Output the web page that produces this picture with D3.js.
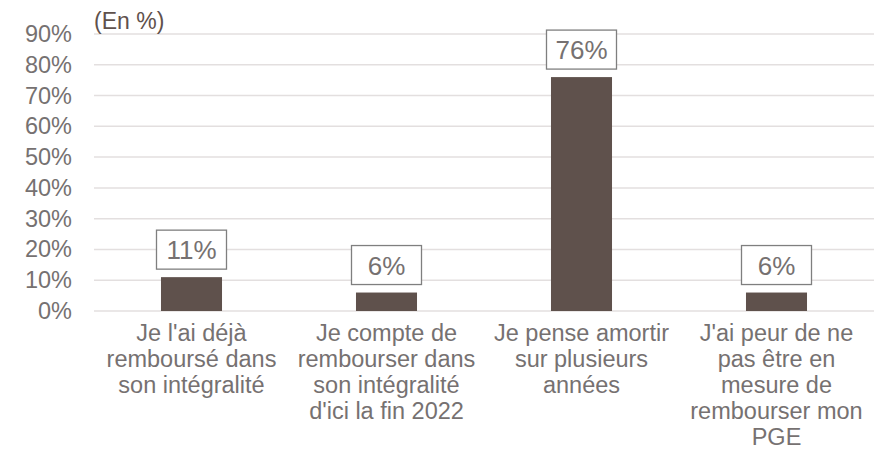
<!DOCTYPE html>
<html>
<head>
<meta charset="utf-8">
<script src="https://cdn.jsdelivr.net/npm/d3@7"></script>
<style>
  body { margin: 0; background: #fff; }
  text { font-family: "Liberation Sans", Arial, sans-serif; }
</style>
</head>
<body>
<div id="chart"></div>
<script>
const width = 883;
const height = 454;

const categories = [
	["Je l'ai déjà", "remboursé dans", "son intégralité"],
	["Je compte de", "rembourser dans", "son intégralité", "d'ici la fin 2022"],
	["Je pense amortir", "sur plusieurs", "années"],
	["J'ai peur de ne", "pas être en", "mesure de", "rembourser mon", "PGE"],
];
const values = [11, 6, 76, 6];
const yTicks = [0, 10, 20, 30, 40, 50, 60, 70, 80, 90];

const svg = d3
	.select("#chart")
	.append("svg")
	.attr("width", width)
	.attr("height", height);

const x = d3
	.scaleBand()
	.domain(d3.range(categories.length))
	.range([94, 874])
	.paddingInner(0.687)
	.paddingOuter(0.3435);

const y = d3.scaleLinear().domain([0, 90]).range([311, 34]);

// grid lines
svg
	.selectAll(".grid")
	.data(yTicks)
	.join("line")
	.attr("x1", 94)
	.attr("x2", 874)
	.attr("y1", (d) => y(d))
	.attr("y2", (d) => y(d))
	.style("stroke", "#e3dfdf")
	.style("stroke-width", 1.5);

// y labels
svg
	.selectAll(".ytick")
	.data(yTicks)
	.join("text")
	.attr("x", 72)
	.attr("y", (d) => y(d) + 8)
	.attr("text-anchor", "end")
	.attr("font-size", "23.5px")
	.style("fill", "#767171")
	.text((d) => d + "%");

svg
	.append("text")
	.attr("x", 94)
	.attr("y", 29)
	.attr("font-size", "23px")
	.style("fill", "#5f514c")
	.text("(En %)");

// bars
svg
	.selectAll(".bar")
	.data(values)
	.join("rect")
	.attr("x", (d, i) => x(i))
	.attr("y", (d) => y(d))
	.attr("width", x.bandwidth())
	.attr("height", (d) => y(0) - y(d))
	.style("fill", "#5f514c");

// data labels with box
const labels = svg
	.selectAll(".lbl")
	.data(values)
	.join("g")
	.attr("transform", (d, i) => `translate(${x(i) + x.bandwidth() / 2},${y(d) - 8})`);

labels
	.append("rect")
	.attr("x", -35)
	.attr("y", -39)
	.attr("width", 70)
	.attr("height", 39)
	.style("fill", "#fff")
	.style("stroke", "#7f7f7f")
	.style("stroke-width", 1.3);

labels
	.append("text")
	.attr("x", 0)
	.attr("y", -10)
	.attr("text-anchor", "middle")
	.attr("font-size", "26px")
	.style("fill", "#767171")
	.text((d) => d + "%");

// category labels
const cats = svg
	.selectAll(".cat")
	.data(categories)
	.join("text")
	.attr("text-anchor", "middle")
	.attr("font-size", "23.5px")
	.style("fill", "#767171");

cats
	.selectAll("tspan")
	.data((d, i) => d.map((t) => ({ t, i })))
	.join("tspan")
	.attr("x", (d) => x(d.i) + x.bandwidth() / 2)
	.attr("y", (d, j) => 341 + j * 26)
	.text((d) => d.t);
</script>
</body>
</html>
